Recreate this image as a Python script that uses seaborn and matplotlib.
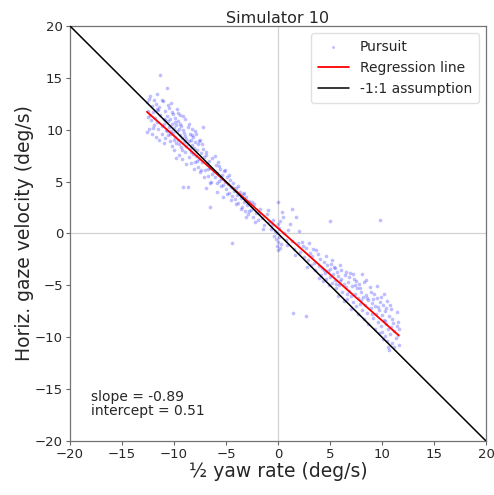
import matplotlib
matplotlib.use("Agg")
import matplotlib.pyplot as plt
import seaborn as sns
import numpy as np
import pandas as pd

title = "Simulator 10"
slope = -0.89
intercept = 0.51
axis_lim = [-20, 20]
ticks = [-20, -15, -10, -5, 0, 5, 10, 15, 20]

pursuit_x = [
    -12.6, -12.6, -12.5, -12.5, -12.4, -12.3, -12.3, -12.2, -12.1, -12.0, -12.0, -11.9, -11.8, -11.7, -11.7,
    -11.6, -11.6, -11.5, -11.5, -11.4, -11.3, -11.3, -11.2, -11.2, -11.1, -11.0, -11.0, -10.9, -10.9, -10.8,
    -10.7, -10.7, -10.6, -10.6, -10.5, -10.5, -10.4, -10.4, -10.3, -10.3, -10.2, -10.2, -10.1, -10.1, -10.0,
    -10.0, -9.9, -9.9, -9.8, -9.8, -9.7, -9.7, -9.6, -9.6, -9.5, -9.5, -9.4, -9.4, -9.3, -9.3, -9.2, -9.2,
    -9.1, -9.1, -9.0, -9.0, -8.9, -8.9, -8.8, -8.8, -8.7, -8.7, -8.6, -8.6, -8.5, -8.5, -8.4, -8.4, -8.3,
    -8.3, -8.2, -8.2, -8.1, -8.0, -8.0, -7.9, -7.9, -7.8, -7.7, -7.7, -7.6, -7.5, -7.5, -7.4, -7.3, -7.2,
    -7.2, -7.1,
    -7.0, -6.9, -6.9, -6.8, -6.7, -6.6, -6.5, -6.5, -6.4, -6.3, -6.2, -6.1, -6.0, -5.9, -5.9, -5.8, -5.7,
    -5.6, -5.5, -5.4, -5.3, -5.2, -5.1, -5.0, -4.9, -4.8, -4.7, -4.6, -4.5, -4.4, -4.4, -4.3, -4.2, -4.1,
    -4.0, -3.9, -3.8, -3.7, -3.6, -3.5, -3.4, -3.3, -3.2, -3.1, -3.0, -2.9, -2.8, -2.6, -2.4, -2.3, -2.1,
    -1.9, -1.7, -1.5, -1.3, -1.1, -0.9, -0.7, -0.5,
    -0.3, -0.2, -0.1, -0.1, 0.0, 0.0, 0.0, 0.1, 0.1, 0.2, 0.3, 0.4, 0.6, 0.8, 1.0, 1.3, 1.3, 1.5, 1.7, 1.9,
    1.4, 2.1, 2.3, 2.5, 2.7, 2.7, 2.9,
    3.1, 3.2, 3.3, 3.5, 3.6, 3.7, 3.9, 4.0, 4.1, 4.2, 4.4, 4.5, 4.6, 4.7, 4.8, 5.0, 5.0, 5.1, 5.2, 5.3,
    5.4, 5.5, 5.6, 5.7, 5.8, 5.9, 6.0, 6.1, 6.2, 6.3, 6.4, 6.5, 6.6, 6.7, 6.8, 6.9, 7.0, 7.1, 7.2, 7.3,
    7.4, 7.5, 7.6, 7.7, 7.8, 7.9, 8.0, 8.1, 8.2, 8.3, 8.4, 8.5, 8.6, 8.7, 8.8, 8.9, 9.0, 9.1, 9.2, 9.3,
    9.4, 9.5, 9.6, 9.7, 9.8, 9.8, 9.9, 10.0, 10.0, 10.1, 10.2, 10.3, 10.3, 10.4, 10.5, 10.5, 10.6, 10.7,
    10.7, 10.8, 10.9, 11.0, 11.1, 11.2, 11.3, 11.4, 11.5, 11.6, 11.6,
    -12.4, -12.1, -11.9, -11.6, -11.4, -11.2, -11.0, -10.9, -10.7, -10.6, -10.4, -10.2, -10.0, -9.9, -9.8,
    -9.6, -9.5, -9.4, -9.2, -9.1, -8.9, -8.8, -8.6, -8.4, -8.3, -8.1, -8.0, -7.8, -7.6, -7.4, -7.3, -7.1,
    -6.9, -6.7, -6.5, -6.3, -6.1, -5.9, -5.7, -5.5, -5.3, -5.1, -4.9, -4.7, -4.5, -4.3, -4.0, -3.8, -3.6,
    -3.3, -3.1, -2.8, -2.5, -2.2, -1.8, -1.4, -1.0, -0.6, -0.4, 0.0, 0.2, 0.5, 0.9, 1.2, 1.6, 2.0, 2.4,
    2.8, 3.0,
    3.4, 3.8, 4.3, 4.6, 4.9, 5.2, 5.5, 5.8, 6.0, 6.3, 6.5, 6.8, 7.0, 7.2, 7.5, 7.7, 7.9, 8.1, 8.3, 8.5,
    8.7, 8.9, 9.1, 9.3, 9.5, 9.7, 9.9, 10.1, 10.2, 10.4, 10.6, 10.8, 11.0, 11.2, 11.4, 11.5, 10.9, 10.3,
    9.6, 9.0, 8.6, 8.0, 7.4, 6.6, 6.1, 5.6, 5.0, 4.4, 3.9,
]
pursuit_y = [
    12.7, 9.8, 11.8, 11.2, 13.0, 13.3, 11.4, 10.9, 12.3, 11.7, 10.2, 12.9, 11.1, 9.3, 12.5,
    13.4, 10.7, 11.9, 10.1, 12.2, 15.3, 11.4, 10.4, 9.6, 12.8, 11.0, 10.6, 9.2, 11.8, 10.0,
    14.0, 11.3, 10.8, 9.5, 12.1, 10.3, 8.9, 11.0, 9.9, 12.6, 10.6, 8.4, 11.5, 9.7, 10.2,
    8.0, 11.1, 9.3, 10.5, 8.7, 9.9, 12.0, 10.8, 9.0, 7.6, 10.1, 9.5, 11.4, 8.3, 10.4, 9.2, 7.2,
    4.5, 10.0, 8.8, 9.7, 11.0, 7.9, 9.1, 8.4, 4.5, 10.3, 8.9, 7.4, 9.6, 8.1, 6.8, 9.0, 8.5,
    10.1, 7.7, 9.3, 8.2, 6.9, 8.8, 7.5, 9.6, 8.0, 6.4, 8.6, 7.2, 9.0, 5.9, 7.8, 6.9, 10.3,
    8.1, 7.4,
    6.1, 4.4, 7.6, 6.7, 5.5, 7.0, 2.6, 6.3, 5.0, 7.3, 6.0, 5.4, 6.6, 4.0, 5.8, 6.9, 5.1,
    6.2, 4.6, 5.6, 4.7, 6.0, 5.0, 4.3, 5.4, 4.8, 3.9, 5.2, 4.5, -0.9, 3.6, 4.9, 4.1, 3.3,
    4.4, 3.7, 2.9, 4.0, 3.4, 2.6, 3.8, 3.0, 2.2, 3.5, 2.7, 1.9, 3.1, 2.3, 1.6, 2.8, 2.0,
    1.3, 2.4, 1.5, 0.8, 1.9, 1.1, 0.4, 1.3,
    0.2, -0.5, 0.0, -1.2, -0.8, -1.6, 3.0, 0.5, -0.3, 1.2, -1.0, 2.1, 0.0, -0.6, 0.3, 2.4, -0.7, -1.5, 1.6, -0.9,
    -7.7, -1.8, -0.8, -2.3, -8.0, -1.4, -2.6,
    -1.9, -3.0, -2.2, -2.8, -3.5, -1.6, -3.1, -2.5, -4.0, -3.3, -2.7, -3.8, -4.4, -3.0, -3.6, 1.2, -4.2, -2.9, -4.8, -3.9,
    -3.2, -4.5, -5.3, -3.7, -4.1, -5.0, -4.6, -3.5, -5.6, -4.9, -4.0, -5.2, -6.3, -4.7, -5.5, -3.8, -6.0, -5.1, -6.6, -4.4,
    -5.8, -7.0, -5.3, -6.2, -4.9, -6.8, -5.6, -7.4, -6.1, -4.7, -6.9, -5.9, -7.7, -6.4, -5.2, -7.2, -6.7, -8.1, -5.8, -7.0,
    -7.8, -6.2, -8.5, -7.4, 1.3, -6.6, -8.9, -7.9, -9.5, -6.9, -8.3, -9.9, -7.5, -8.7, -10.4, -6.5, -9.2, -11.2,
    -8.0, -9.7, -7.3, -10.6, -8.6, -9.4, -10.1, -8.9, -9.8, -10.7, -9.2,
    10.1, 9.6, 10.5, 12.0, 9.0, 12.9, 8.7, 10.9, 9.9, 12.4, 9.6, 11.7, 9.0, 10.7, 7.3,
    11.6, 8.6, 10.6, 8.0, 11.3, 9.4, 6.7, 10.6, 7.9, 9.5, 6.2, 9.9, 7.0, 8.9, 6.1, 8.6, 5.4,
    7.9, 6.2, 4.9, 5.7, 7.5, 4.9, 6.5, 5.3, 3.5, 6.1, 3.8, 5.6, 3.2, 4.4, 2.8, 4.6, 2.4,
    3.9, 1.6, 2.2, 3.0, 1.1, 2.0, 0.4, 2.3, 0.8, -0.2, 0.9, -1.4, 1.6, -1.1, 0.9, -2.1, 0.2, -1.2,
    -3.2, -0.9,
    -1.5, -2.0, -4.6, -2.2, -5.0, -2.6, -3.3, -6.0, -3.0, -6.5, -3.7, -4.2, -7.3, -3.9, -4.6, -7.8, -5.3, -3.9, -8.2, -4.5,
    -8.7, -5.6, -6.3, -9.2, -5.1, -9.6, -6.1, -10.2, -5.8, -7.2, -10.9, -6.9, -8.2, -10.9, -7.6, -8.5, -9.0, -8.4,
    -7.1, -7.8, -6.2, -6.4, -5.0, -5.8, -4.4, -4.9, -3.4, -3.5, -4.3,
]

df = pd.DataFrame({"x": pursuit_x, "y": pursuit_y})

sns.set_style("white")
plt.rcParams['font.family'] = ['DejaVu Sans']

fig = plt.figure(figsize=(4.94, 4.95), dpi=100)
ax = fig.add_axes([0.1417, 0.1091, 0.8421, 0.8384])

ax.axhline(0, color="0.82", lw=0.9, zorder=0)
ax.axvline(0, color="0.82", lw=0.9, zorder=0)

sns.scatterplot(data=df, x="x", y="y", ax=ax, s=7, color="blue", alpha=0.25,
                linewidth=0, label="Pursuit", zorder=2)

xr = np.array([min(pursuit_x), max(pursuit_x)])
reg = pd.DataFrame({"x": xr, "y": slope * xr + intercept})
sns.lineplot(data=reg, x="x", y="y", ax=ax, color="red", lw=1.3, label="Regression line", zorder=3)

ident = pd.DataFrame({"x": axis_lim, "y": [axis_lim[1], axis_lim[0]]})
sns.lineplot(data=ident, x="x", y="y", ax=ax, color="black", lw=1.1, label="-1:1 assumption", zorder=3)

ax.set_xlim(axis_lim)
ax.set_ylim(axis_lim)
ax.set_xticks(ticks)
ax.set_yticks(ticks)
ax.tick_params(bottom=True, left=True, labelsize=9.5, length=3, width=0.8,
               color="0.4", direction="out", pad=2)
for sp in ax.spines.values():
    sp.set_color("0.45")
    sp.set_linewidth(0.9)

ax.set_title(title, fontsize=11.5, pad=2)
ax.set_xlabel("½ yaw rate (deg/s)", fontsize=13.5, labelpad=1)
ax.set_ylabel("Horiz. gaze velocity (deg/s)", fontsize=13.5, labelpad=1)

ax.text(0.05, 0.055, f"slope = {slope:.2f}\nintercept = {intercept:.2f}",
        transform=ax.transAxes, fontsize=10, ha="left", va="bottom", linespacing=1.0)

leg = ax.legend(loc="upper right", fontsize=10, frameon=True, markerscale=0.8,
                borderpad=0.5, labelspacing=0.5, handlelength=2.2)
leg.get_frame().set_edgecolor("0.85")

fig.savefig("out.png", dpi=100)
